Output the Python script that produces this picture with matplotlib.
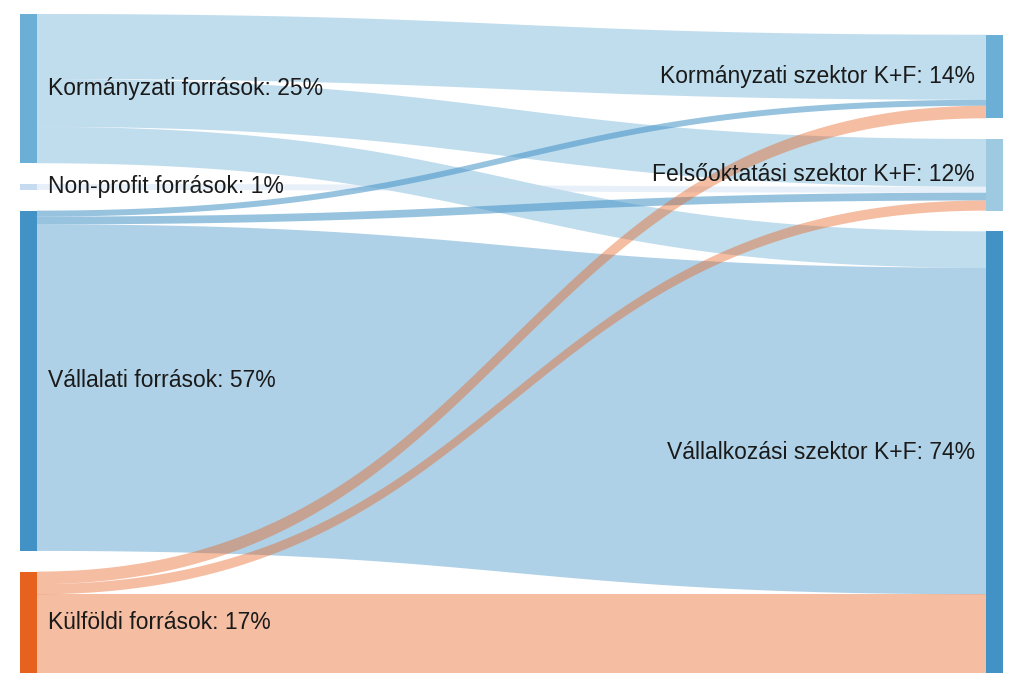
import numpy as np
import matplotlib.pyplot as plt
from matplotlib.patches import Polygon, Rectangle

# K+F források -> K+F szektorok (%)
sources = ['Kormányzati források', 'Non-profit források',
           'Vállalati források', 'Külföldi források']
source_pct = [25, 1, 57, 17]
targets = ['Kormányzati szektor K+F', 'Felsőoktatási szektor K+F',
           'Vállalkozási szektor K+F']
target_pct = [14, 12, 74]

# rows: sources, cols: targets
flow_korm = [10.9, 8.0, 6.1]
flow_nonprofit = [0.0, 1.0, 0.0]
flow_vallalati = [1.0, 1.3, 54.7]
flow_kulfoldi = [2.1, 1.7, 13.2]

src_colors = ['#6baed6', '#c6dbef', '#4292c6', '#e8621f']
tgt_colors = ['#6baed6', '#9ecae1', '#4292c6']

flows = np.array([flow_korm, flow_nonprofit, flow_vallalati, flow_kulfoldi])

W, H = 1024, 687
plt.rcParams['font.family'] = ['Liberation Sans', 'DejaVu Sans']
fig = plt.figure(figsize=(W / 100, H / 100), dpi=100)
ax = fig.add_axes([0, 0, 1, 1])
ax.set_xlim(0, W)
ax.set_ylim(H, 0)
ax.axis('off')

scale = 5.97     # px per percent
gap = 20.7
top = 14
node_w = 17
xl, xr = 20, 986

src_h = flows.sum(1) * scale
tgt_h = flows.sum(0) * scale
src_y = top + np.concatenate([[0], np.cumsum(src_h[:-1] + gap)])
bottom = src_y[-1] + src_h[-1]
tgt_y = bottom - (tgt_h.sum() + gap * (len(targets) - 1)) \
    + np.concatenate([[0], np.cumsum(tgt_h[:-1] + gap)])

# links
x0, x1 = xl + node_w, xr
t = np.linspace(0, 1, 120)
bx = (1 - t)**3 * x0 + 3 * (1 - t)**2 * t * (x0 + x1) / 2 \
    + 3 * (1 - t) * t**2 * (x0 + x1) / 2 + t**3 * x1
s = 3 * t**2 - 2 * t**3

src_off = src_y.copy()
tgt_off = tgt_y.copy()
for i in range(len(sources)):
    for j in range(len(targets)):
        v = flows[i, j] * scale
        if v <= 0:
            continue
        ya, yb = src_off[i], tgt_off[j]
        up = ya + (yb - ya) * s
        lo = up + v
        pts = np.vstack([np.column_stack([bx, up]),
                         np.column_stack([bx[::-1], lo[::-1]])])
        alpha = 0.55 if (i == 2 and j < 2) else 0.42
        ax.add_patch(Polygon(pts, closed=True, facecolor=src_colors[i],
                             edgecolor='none', alpha=alpha, zorder=1))
        src_off[i] += v
        tgt_off[j] += v

# nodes + labels
for i, name in enumerate(sources):
    ax.add_patch(Rectangle((xl, src_y[i]), node_w, src_h[i],
                           facecolor=src_colors[i], edgecolor='none', zorder=2))
    ax.text(xl + node_w + 11, src_y[i] + src_h[i] / 2,
            f'{name}: {source_pct[i]}%', ha='left', va='center',
            fontsize=16.5, color='#1a1a1a', zorder=3)

for j, name in enumerate(targets):
    ax.add_patch(Rectangle((xr, tgt_y[j]), node_w, tgt_h[j],
                           facecolor=tgt_colors[j], edgecolor='none', zorder=2))
    ax.text(xr - 11, tgt_y[j] + tgt_h[j] / 2,
            f'{name}: {target_pct[j]}%', ha='right', va='center',
            fontsize=16.5, color='#1a1a1a', zorder=3)

fig.savefig('out.png', dpi=100)
